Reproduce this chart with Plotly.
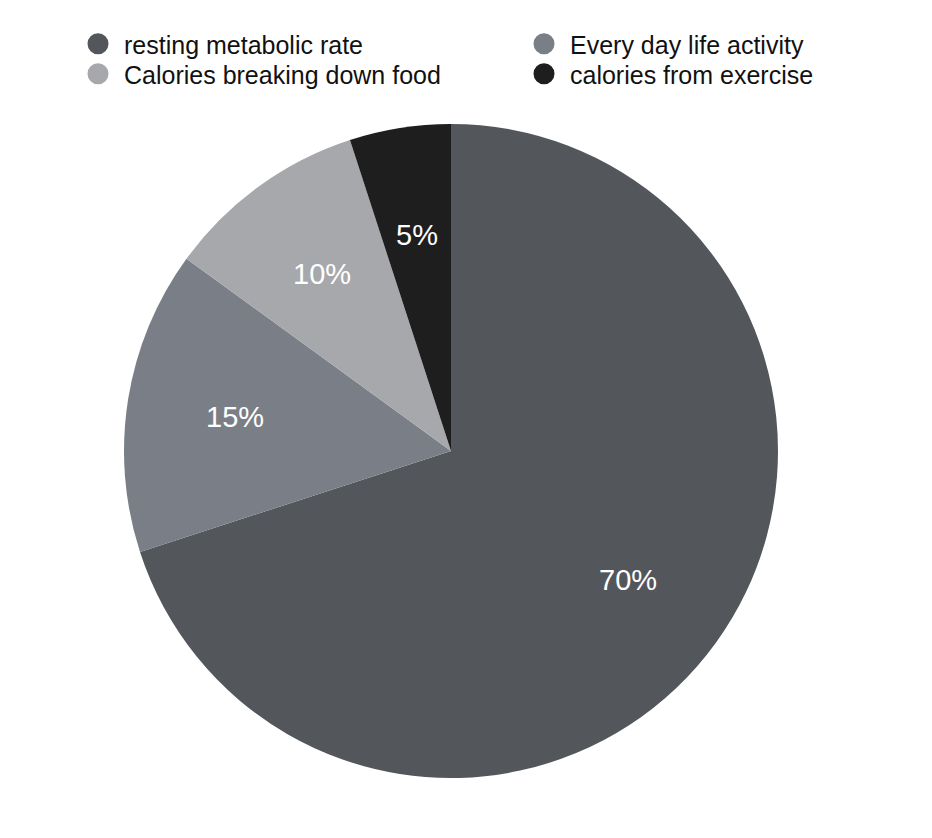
import math
import plotly.graph_objects as go

labels = ["resting metabolic rate", "Every day life activity",
          "Calories breaking down food", "calories from exercise"]
values = [70, 15, 10, 5]
colors = ["#53575c", "#7a7f87", "#a6a8ab", "#1e1e1f"]

W, H = 916, 822          # page adds 8px body margin
cx, cy, r = 443, 443, 327
FONT = "Liberation Sans, Arial, Helvetica, sans-serif"

fig = go.Figure()

fig.add_trace(go.Pie(
    labels=labels,
    values=values,
    sort=False,
    direction="clockwise",
    rotation=0,
    marker=dict(colors=colors, line=dict(width=0)),
    textinfo="none",
    showlegend=False,
    hoverinfo="label+percent",
    domain=dict(x=[(cx - r) / W, (cx + r) / W],
                y=[1 - (cy + r) / H, 1 - (cy - r) / H]),
))

# percentage labels placed at 2/3 of the radius along each slice bisector
total = sum(values)
cum = 0
for v in values:
    theta = 2 * math.pi * (cum + v / 2) / total
    cum += v
    px = cx + 0.67 * r * math.sin(theta)
    py = cy - 0.67 * r * math.cos(theta)
    fig.add_annotation(
        x=px / W, y=1 - py / H, xref="paper", yref="paper",
        xanchor="center", yanchor="middle",
        text=f"{round(100 * v / total)}%", showarrow=False,
        font=dict(color="white", size=29, family=FONT),
    )

# one legend per entry, laid out as two columns x two rows
legend_ids = ["legend", "legend2", "legend3", "legend4"]
legend_pos = [(64, 13), (510, 13), (64, 43), (510, 43)]

for i, lab in enumerate(labels):
    fig.add_trace(go.Scatter(
        x=[None], y=[None], mode="markers", name=lab,
        marker=dict(symbol="circle", size=16, color=colors[i],
                    line=dict(color=colors[i], width=5)),
        hoverinfo="skip", legend=legend_ids[i],
    ))

leg = dict(orientation="v", xanchor="left", yanchor="top",
           font=dict(size=25, color="#111", family=FONT),
           itemsizing="trace", itemwidth=42, bgcolor="rgba(0,0,0,0)")

legends = {lid: dict(leg, x=lx / W, y=1 - ly / H)
           for lid, (lx, ly) in zip(legend_ids, legend_pos)}

fig.update_layout(
    width=W, height=H,
    margin=dict(l=0, r=0, t=0, b=0),
    paper_bgcolor="white",
    plot_bgcolor="white",
    xaxis=dict(visible=False),
    yaxis=dict(visible=False),
    font=dict(family=FONT, color="#111"),
    **legends,
)

fig.write_html("out.html")
